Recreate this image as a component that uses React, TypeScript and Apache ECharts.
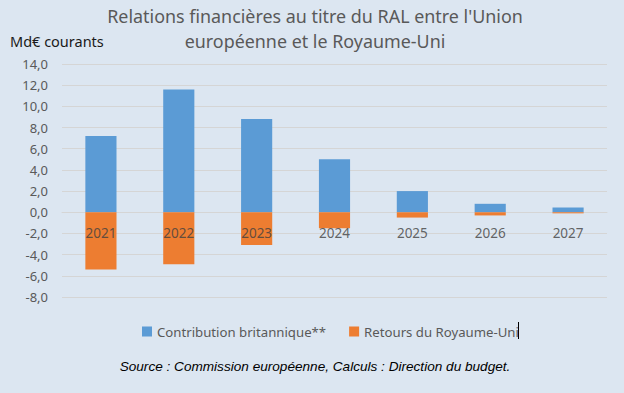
import React, { useEffect, useRef } from "react";
import * as echarts from "echarts";

const categories = ["2021", "2022", "2023", "2024", "2025", "2026", "2027"];
const contribution = [7.2, 11.6, 8.8, 5.0, 2.0, 0.8, 0.45];
const retours = [-5.4, -4.9, -3.1, -1.5, -0.5, -0.3, -0.1];
const seriesNames = ["Contribution britannique**", "Retours du Royaume-Uni"];
const titleLines = ["Relations financières au titre du RAL entre l'Union", "européenne et le Royaume-Uni"];
const unitLabel = "Md€ courants";
const sourceText = "Source : Commission européenne, Calculs : Direction du budget.";

export default function App() {
  const ref = useRef<HTMLDivElement>(null);
  useEffect(() => {
    if (!ref.current) return;
    const chart = echarts.init(ref.current, undefined, { renderer: "svg" });
    const titleFont = '17.9px "Noto Sans", sans-serif';
    chart.setOption({
      animation: false,
      backgroundColor: "#dce6f1",
      grid: { left: 62, right: 17, top: 64, bottom: 96, containLabel: false },
      legend: {
        left: 137,
        top: 320,
        itemWidth: 10,
        itemHeight: 10,
        itemGap: 23,
        icon: "rect",
        textStyle: { color: "#595959", fontSize: 13.2, fontFamily: "Noto Sans" },
        data: seriesNames,
      },
      xAxis: {
        type: "category",
        data: categories,
        axisLine: { show: true, onZero: true, lineStyle: { color: "#d5d5d5" } },
        axisTick: { show: false },
        axisLabel: { show: false },
      },
      yAxis: {
        type: "value",
        min: -8,
        max: 14,
        interval: 2,
        axisLine: { show: false },
        axisTick: { show: false },
        splitLine: { lineStyle: { color: "#d5d5d5" } },
        axisLabel: {
          color: "#595959",
          fontSize: 13,
          fontFamily: "Noto Sans",
          margin: 14,
          formatter: (v: number) => v.toFixed(1).replace(".", ","),
        },
      },
      series: [
        {
          name: seriesNames[0],
          type: "bar",
          stack: "s",
          data: contribution,
          barWidth: "40%",
          itemStyle: { color: "#5b9bd5" },
        },
        {
          name: seriesNames[1],
          type: "bar",
          stack: "s",
          data: retours,
          barWidth: "40%",
          itemStyle: { color: "#ed7d31" },
        },
        {
          name: "labels",
          type: "scatter",
          data: categories.map((c) => [c, 0]),
          symbolSize: 0,
          silent: true,
          z: 10,
          label: {
            show: true,
            position: "bottom",
            distance: 13.5,
            color: "#404040",
            fontSize: 13.5,
            fontFamily: "Noto Sans",
            formatter: (p: any) => p.data[0],
          },
        },
      ],
      graphic: [
        {
          type: "text",
          x: 315,
          y: 16,
          style: { text: titleLines[0], font: titleFont, fill: "#595959", textAlign: "center", textVerticalAlign: "middle" },
        },
        {
          type: "text",
          x: 315,
          y: 41,
          style: { text: titleLines[1], font: titleFont, fill: "#595959", textAlign: "center", textVerticalAlign: "middle" },
        },
        {
          type: "text",
          x: 10,
          y: 41,
          style: { text: unitLabel, font: '14.5px "Noto Sans", sans-serif', fill: "#1a1a1a", textAlign: "left", textVerticalAlign: "middle" },
        },
        {
          type: "text",
          x: 315,
          y: 366,
          style: { text: sourceText, font: 'italic 13.6px "Liberation Sans", Arial, sans-serif', fill: "#000000", textAlign: "center", textVerticalAlign: "middle" },
        },
        {
          type: "line",
          shape: { x1: 518.5, y1: 322, x2: 518.5, y2: 339 },
          style: { stroke: "#000000", lineWidth: 1 },
        },
      ],
    });
    return () => chart.dispose();
  }, []);
  return <div ref={ref} style={{ position: "fixed", left: 0, top: 0, width: 624, height: 393 }} />;
}
